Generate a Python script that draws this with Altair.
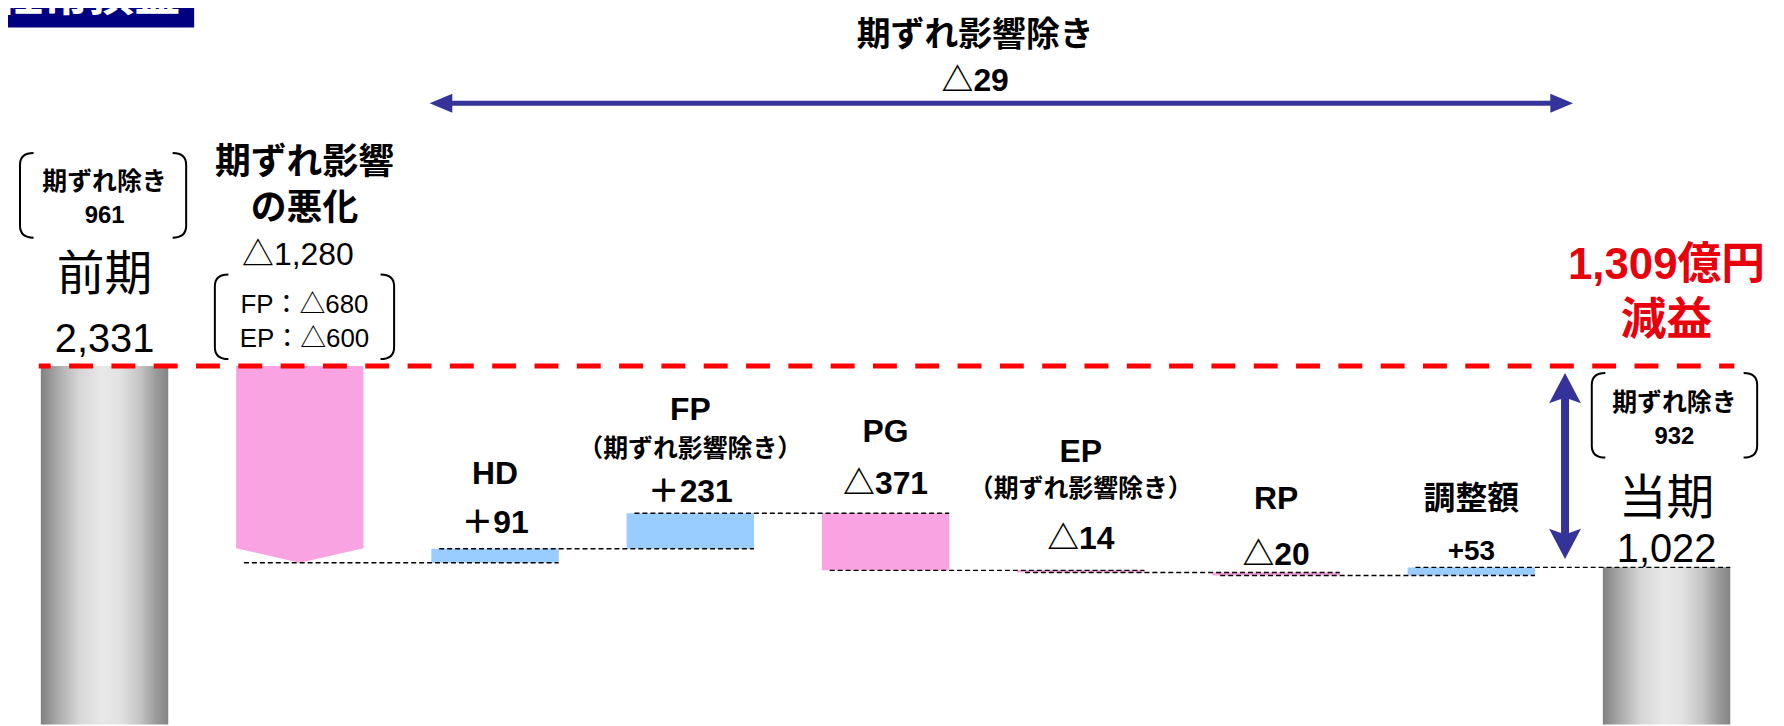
import altair as alt
import pandas as pd

# ---------------- data ----------------
categories = ["前期", "期ずれ影響の悪化", "HD", "FP", "PG", "EP", "RP", "調整額", "当期"]
name_lines = [["前期"], ["期ずれ影響", "の悪化"], ["HD"], ["FP", "（期ずれ影響除き）"], ["PG"],
              ["EP", "（期ずれ影響除き）"], ["RP"], ["調整額"], ["当期"]]
values = [2331, -1280, 91, 231, -371, -14, -20, 53, 1022]
value_labels = ["2,331", "△1,280", "＋91", "＋231", "△371", "△14", "△20", "+53", "1,022"]
breakdown_labels = ["FP：△680", "EP：△600"]
ex_timing_title = "期ずれ除き"
ex_timing_values = ["961", "932"]
range_title = "期ずれ影響除き"
range_value = "△29"
decrease_lines = ["1,309億円", "減益"]
panel_title = "経常損益"

# ---------------- layout / style constants ----------------
W, H = 1776, 718
YMAX = 4649.0
XMIN, XMAX = -0.469, 8.535
PX = YMAX / H          # value units per pixel
HALF = 0.326           # half bar width in category-index units
BAR_PX = 128
PINK = "#F9A3E2"
BLUE = "#99CCFF"
NAVY = "#333399"
RED_TXT = "#E8000C"
FONT = "Liberation Sans, Noto Sans CJK JP"

xs = alt.Scale(domain=[XMIN, XMAX], nice=False, zero=False)
ys = alt.Scale(domain=[0, YMAX], nice=False, zero=False)


def X(f, **k):
    return alt.X(f, type="quantitative", scale=xs, axis=None, **k)


def Y(f, **k):
    return alt.Y(f, type="quantitative", scale=ys, axis=None, **k)


# ---------------- waterfall table ----------------
rows = []
running = 0
n = len(values)
for i, (c, v) in enumerate(zip(categories, values)):
    if i == 0 or i == n - 1:
        start, end, kind = 0, v, "total"
        running = v
    else:
        start, end = running, running + v
        running = end
        kind = "up" if v > 0 else "down"
    rows.append(dict(idx=i, cat=c, start=start, end=end, top=max(start, end), kind=kind))
bars = pd.DataFrame(rows)

gray = alt.Gradient(
    gradient="linear", x1=0, x2=1, y1=0, y2=0,
    stops=[
        alt.GradientStop(color="#808080", offset=0),
        alt.GradientStop(color="#a6a6a6", offset=0.12),
        alt.GradientStop(color="#d6d6d6", offset=0.3),
        alt.GradientStop(color="#e8e8e8", offset=0.48),
        alt.GradientStop(color="#e2e2e2", offset=0.62),
        alt.GradientStop(color="#c4c4c4", offset=0.78),
        alt.GradientStop(color="#9c9c9c", offset=0.9),
        alt.GradientStop(color="#848484", offset=1),
    ],
)

totals = alt.Chart(bars[bars.kind == "total"]).mark_bar(color=gray, size=BAR_PX).encode(
    x=X("idx"), y=Y("start"), y2="end")

deltas = alt.Chart(bars[(bars.kind != "total") & (bars.idx > 1)]).mark_bar(size=BAR_PX).encode(
    x=X("idx"), y=Y("start"), y2="end",
    color=alt.Color("kind:N", scale=alt.Scale(domain=["up", "down"], range=[BLUE, PINK]), legend=None))

# first delta drawn as a downward arrow-shaped block
b1 = bars.iloc[1]
notch = 95
penta = pd.DataFrame({
    "x": [b1.idx - HALF, b1.idx, b1.idx + HALF],
    "y": [b1.end + notch, b1.end, b1.end + notch],
    "y2": [b1.start] * 3,
})
pent = alt.Chart(penta).mark_area(color=PINK, opacity=1).encode(x=X("x"), y=Y("y"), y2="y2")

# dotted connectors
conn = []
for i in range(1, n - 1):
    conn.append(dict(x=i - HALF + 0.04, x2=i + 1 + HALF, y=bars.end[i]))
connectors = alt.Chart(pd.DataFrame(conn)).mark_rule(
    color="black", strokeWidth=1.4, strokeDash=[5, 3]).encode(x=X("x"), x2="x2", y=Y("y"))

# red dashed reference line at previous-period level
redline = alt.Chart(pd.DataFrame([dict(x=-0.337, x2=n - 1 + 0.347, y=values[0])])).mark_rule(
    color="#FF0000", strokeWidth=5, strokeDash=[24, 18.5], strokeDashOffset=12).encode(
    x=X("x"), x2="x2", y=Y("y"))

# arrows
H_Y = 4040
H_L, H_R = 1.665, 7.521
V_X = 7.48
V_T, V_B = 2286, 1075
hshaft = alt.Chart(pd.DataFrame([dict(x=H_L + 0.08, x2=H_R - 0.08, y=H_Y)])).mark_rule(
    color=NAVY, strokeWidth=5).encode(x=X("x"), x2="x2", y=Y("y"))
hl = alt.Chart(pd.DataFrame([dict(x=H_L, y=H_Y)])).mark_point(
    shape="M0,0L2.4,-1L2.4,1Z", filled=True, color=NAVY, opacity=1, size=361).encode(x=X("x"), y=Y("y"))
hr = alt.Chart(pd.DataFrame([dict(x=H_R, y=H_Y)])).mark_point(
    shape="M0,0L-2.4,-1L-2.4,1Z", filled=True, color=NAVY, opacity=1, size=361).encode(x=X("x"), y=Y("y"))
vshaft = alt.Chart(pd.DataFrame([dict(x=V_X, y=V_T - 150, y2=V_B + 150)])).mark_rule(
    color=NAVY, strokeWidth=8).encode(x=X("x"), y=Y("y"), y2="y2")
vt = alt.Chart(pd.DataFrame([dict(x=V_X, y=V_T)])).mark_point(
    shape="M0,0L1,1.9L0.3,1.65L-0.3,1.65L-1,1.9Z", filled=True, color=NAVY, opacity=1, size=1024).encode(
    x=X("x"), y=Y("y"))
vb = alt.Chart(pd.DataFrame([dict(x=V_X, y=V_B)])).mark_point(
    shape="M0,0L1,-1.9L0.3,-1.65L-0.3,-1.65L-1,-1.9Z", filled=True, color=NAVY, opacity=1, size=1024).encode(
    x=X("x"), y=Y("y"))

# bracket boxes: (left, right, center value)
boxes = [(-0.433, 0.418, 3441), (0.565, 1.483, 2651), (7.617, 8.464, 2011)]
lb = pd.DataFrame([dict(x=b[0], y=b[2]) for b in boxes])
rb = pd.DataFrame([dict(x=b[1], y=b[2]) for b in boxes])
lbr = alt.Chart(lb).mark_point(
    shape="M0.32,-1Q0,-1 0,-0.72L0,0.72Q0,1 0.32,1", filled=False, color="black",
    strokeWidth=2, opacity=1, size=7225).encode(x=X("x"), y=Y("y"))
rbr = alt.Chart(rb).mark_point(
    shape="M-0.32,-1Q0,-1 0,-0.72L0,0.72Q0,1 -0.32,1", filled=False, color="black",
    strokeWidth=2, opacity=1, size=7225).encode(x=X("x"), y=Y("y"))

# ---------------- text ----------------
bold_rows, normal_rows, red_rows = [], [], []


def add(target, x, y, text, size):
    # middle baseline: shift so glyph centre lands on y
    target.append(dict(x=x, y=y - 0.07 * size * PX, text=text, size=size))


name_dy = [[-94], [-206, -160], [-77], [-105.5, -66], [-84], [-121, -83], [-76], [-71], [-71]]
value_dy = [-29, -114, -28, -24, -32, -34, -20, -17, -20]
for i in range(n):
    top = bars.top[i]
    for j, (line, dy) in enumerate(zip(name_lines[i], name_dy[i])):
        y = top - dy * PX
        if i in (0, n - 1):
            add(normal_rows, i, y, line, 48)
        elif i == 1:
            add(bold_rows, i + 0.024, y, line, 36)
        elif j == 1:
            add(bold_rows, i, y, line, 25)
        else:
            add(bold_rows, i, y, line, 32)
    y = top - value_dy[i] * PX
    if i in (0, n - 1):
        add(normal_rows, i, y, value_labels[i], 40)
    elif i == 1:
        add(normal_rows, i - 0.01, y, value_labels[i], 32)
    elif i == n - 2:
        add(bold_rows, i, y, value_labels[i], 28)
    else:
        add(bold_rows, i, y, value_labels[i], 32)

# breakdown inside bracket
add(normal_rows, 1.024, 2742, breakdown_labels[0], 26)
add(normal_rows, 1.024, 2519, breakdown_labels[1], 26)
# ex-timing boxes
add(bold_rows, 0.0, 3542, ex_timing_title, 25)
add(bold_rows, 0.0, 3315, ex_timing_values[0], 24)
add(bold_rows, 8.04, 2104, ex_timing_title, 25)
add(bold_rows, 8.04, 1878, ex_timing_values[1], 24)
# range annotation
add(bold_rows, 4.459, 4494, range_title, 34)
add(bold_rows, 4.459, 4202, range_value, 32)
# decrease
add(red_rows, 8.0, 3004, decrease_lines[0], 44)
add(red_rows, 8.0, 2642, decrease_lines[1], 46)


def text_layer(rows, weight, color):
    return alt.Chart(pd.DataFrame(rows)).mark_text(
        font=FONT, fontWeight=weight, color=color, baseline="middle", align="center").encode(
        x=X("x"), y=Y("y"), text="text:N", size=alt.Size("size:Q", scale=None, legend=None))


t_bold = text_layer(bold_rows, "bold", "black")
t_norm = text_layer(normal_rows, "normal", "black")
t_red = text_layer(red_rows, "bold", RED_TXT)

# panel title box (top-left, cut off by the page edge)
tbox = alt.Chart(pd.DataFrame([dict(x=-0.6, x2=0.459, y=4760, y2=4532)])).mark_rect(color="#000080").encode(
    x=X("x"), x2="x2", y=Y("y"), y2="y2")
ttext = alt.Chart(pd.DataFrame([dict(x=-0.55, y=4643, text=panel_title)])).mark_text(
    font=FONT, fontWeight="bold", color="white", fontSize=46, align="left", baseline="alphabetic").encode(
    x=X("x"), y=Y("y"), text="text:N")

chart = alt.layer(
    totals, deltas, pent, connectors, redline,
    hshaft, hl, hr, vshaft, vt, vb,
    lbr, rbr, t_bold, t_norm, t_red, tbox, ttext,
).properties(width=W, height=H, padding=0, autosize="none").configure_view(stroke=None)

chart.save("out.html", embed_options={"renderer": "svg", "actions": False})
